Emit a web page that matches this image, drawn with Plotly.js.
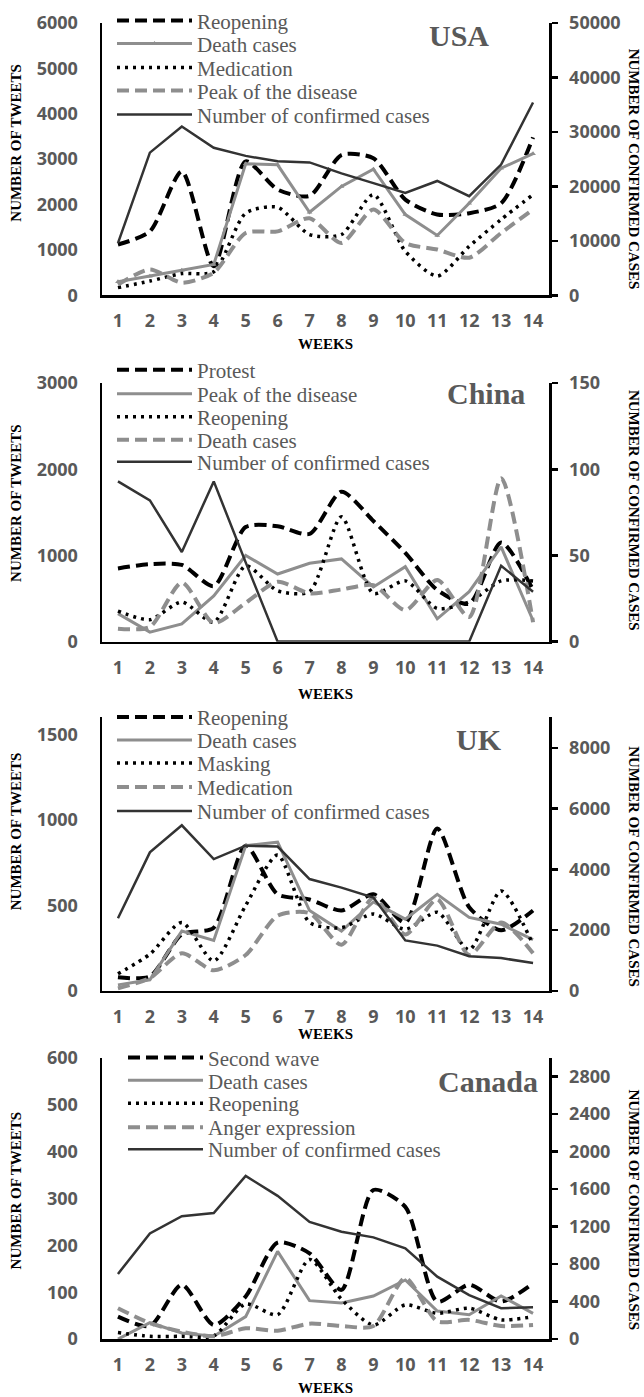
<!DOCTYPE html>
<html>
<head>
<meta charset="utf-8">
<script src="https://cdn.plot.ly/plotly-3.0.1.min.js"></script>
<style>
html,body{margin:0;padding:0;background:#ffffff;}
#chart{width:644px;height:1397px;}
</style>
</head>
<body>
<div id="chart"></div>
<script>
// ---------- DATA ----------
const weeks = [1,2,3,4,5,6,7,8,9,10,11,12,13,14];

// USA
const usaReopening  = [1120,1410,2730,640,2950,2330,2190,3090,3020,2110,1780,1810,2030,3480];
const usaDeath      = [300,420,555,680,2900,2875,1830,2400,2780,1780,1320,2030,2800,3120];
const usaMedication = [170,315,480,520,1810,1940,1340,1340,2220,970,425,1080,1670,2220];
const usaPeak       = [240,570,280,500,1375,1410,1700,1155,1890,1155,1010,830,1375,1890];
const usaConfirmed  = [9600,26200,31000,27100,25600,24600,24400,22400,20600,18800,21000,18200,24000,35400];

// China
const chinaProtest   = [850,900,890,645,1330,1340,1250,1740,1400,1030,600,440,1150,600];
const chinaPeak      = [325,110,205,530,1000,785,910,960,635,870,265,580,1100,245];
const chinaReopening = [355,255,460,225,880,590,580,1450,560,705,385,460,705,705];
const chinaDeath     = [150,170,685,215,450,695,560,605,655,365,715,285,1895,225];
const chinaConfirmed = [93,82,52,93,46,0,0,0,0,0,0,0,44,29];

// UK
const ukReopening  = [80,85,330,370,850,565,535,470,565,400,950,490,355,470];
const ukDeath      = [35,65,350,295,850,870,470,350,520,420,565,430,390,300];
const ukMasking    = [100,215,400,175,500,795,400,370,450,360,460,240,585,270];
const ukMedication = [15,75,220,120,210,440,455,270,545,330,535,210,400,220];
const ukConfirmed  = [2390,4560,5450,4340,4780,4750,3680,3400,3070,1660,1490,1140,1080,920];

// Canada
const canSecondWave = [48,28,116,30,91,206,183,105,318,282,80,116,80,119];
const canDeath      = [0,35,13,6,48,187,82,77,92,126,60,52,92,55];
const canReopening  = [14,6,6,7,75,52,170,85,30,73,55,66,41,48];
const canAnger      = [66,34,16,6,23,18,33,28,28,130,38,41,28,30];
const canConfirmed  = [695,1127,1310,1345,1740,1527,1250,1145,1085,967,666,470,330,340];

// Tick labels
const usaLeftTicks   = [0,1000,2000,3000,4000,5000,6000];
const usaRightTicks  = [0,10000,20000,30000,40000,50000];
const chinaLeftTicks = [0,1000,2000,3000];
const chinaRightTicks= [0,50,100,150];
const ukLeftTicks    = [0,500,1000,1500];
const ukRightTicks   = [0,2000,4000,6000,8000];
const canLeftTicks   = [0,100,200,300,400,500,600];
const canRightTicks  = [0,400,800,1200,1600,2000,2400,2800];

// ---------- STYLES ----------
const W = 644, H = 1397;
const px = v => v / W;
const py = v => 1 - v / H;

const STY = {
  blackDash: {line:{color:'#000000', width:4, dash:'12px,6px', shape:'spline', smoothing:0.7}},
  grayDash:  {line:{color:'#8e8e8e', width:4, dash:'12px,6px', shape:'spline', smoothing:0.7}},
  blackDot:  {line:{color:'#000000', width:3.5, dash:'3px,5px', shape:'spline', smoothing:0.7}},
  graySolid: {line:{color:'#8e8e8e', width:3}},
  grayTri:   {line:{color:'#8e8e8e', width:3}, marker:{symbol:'triangle-up', size:5, color:'#8e8e8e'}, mode:'lines+markers'},
  confirmed: {line:{color:'#333333', width:2.5}}
};

const panels = [
  {label:'USA', top:20, bottom:293, lRange:[0,6000], lTicks:usaLeftTicks, rRange:[0,50000], rTicks:usaRightTicks,
   labelPos:[459,33], legX:112, legY:[18,41,65,88,112], leftTitleY:140, rightTitleY:166, weeksY:342,
   series:[['Reopening',usaReopening,'blackDash'],['Death cases',usaDeath,'grayTri'],['Medication',usaMedication,'blackDot'],
           ['Peak of the disease',usaPeak,'grayDash'],['Number of confirmed cases',usaConfirmed,'confirmed']]},
  {label:'China', top:381, bottom:640, lRange:[0,3000], lTicks:chinaLeftTicks, rRange:[0,150], rTicks:chinaRightTicks,
   labelPos:[486,391], legX:112, legY:[368,392,415,438,460], leftTitleY:501, rightTitleY:508, weeksY:692,
   series:[['Protest',chinaProtest,'blackDash'],['Peak of the disease',chinaPeak,'graySolid'],['Reopening',chinaReopening,'blackDot'],
           ['Death cases',chinaDeath,'grayDash'],['Number of confirmed cases',chinaConfirmed,'confirmed']]},
  {label:'UK', top:716, bottom:990, lRange:[0,1600], lTicks:ukLeftTicks, rRange:[0,9000], rTicks:ukRightTicks,
   labelPos:[479,738], legX:112, legY:[716,739,762,786,810], leftTitleY:830, rightTitleY:865, weeksY:1033,
   series:[['Reopening',ukReopening,'blackDash'],['Death cases',ukDeath,'graySolid'],['Masking',ukMasking,'blackDot'],
           ['Medication',ukMedication,'grayDash'],['Number of confirmed cases',ukConfirmed,'confirmed']]},
  {label:'Canada', top:1057, bottom:1339, lRange:[0,600], lTicks:canLeftTicks, rRange:[0,3000], rTicks:canRightTicks,
   labelPos:[488,1081], legX:123, legY:[1057,1080,1103,1127,1149], leftTitleY:1190, rightTitleY:1209, weeksY:1388,
   series:[['Second wave',canSecondWave,'blackDash'],['Death cases',canDeath,'graySolid'],['Reopening',canReopening,'blackDot'],
           ['Anger expression',canAnger,'grayDash'],['Number of confirmed cases',canConfirmed,'confirmed']]}
];

// ---------- BUILD ----------
const tickFont = {family:'Open Sans, Liberation Sans, sans-serif', size:18, color:'#595959', weight:'bold'};
const titleFont = {family:'Liberation Serif, serif', size:15, color:'#000000', weight:'bold'};
const legendFont = {family:'Liberation Serif, serif', size:21, color:'#595959'};

const data = [];
const layout = {
  width: W, height: H,
  margin:{l:0,r:0,t:0,b:0},
  paper_bgcolor:'#ffffff', plot_bgcolor:'rgba(0,0,0,0)',
  showlegend:true,
  annotations:[]
};

const X0 = 102, X1 = 549;
let legendCount = 0;

panels.forEach((p, i) => {
  const n = i + 1;
  const xName = n === 1 ? 'x' : 'x' + n;
  const yL = 2*n - 1, yR = 2*n;
  const yLName = yL === 1 ? 'y' : 'y' + yL;
  const yRName = 'y' + yR;

  layout['xaxis' + (n === 1 ? '' : n)] = {
    domain:[px(X0), px(X1)], anchor:yLName, range:[0.5,14.5], tickvals:weeks,
    showline:true, linecolor:'#000', linewidth:2.5, ticks:'', showgrid:false, zeroline:false,
    tickfont:tickFont, ticklabelstandoff:8, fixedrange:true
  };
  layout['yaxis' + (yL === 1 ? '' : yL)] = {
    domain:[py(p.bottom), py(p.top)], anchor:xName, range:p.lRange, tickvals:p.lTicks, tickformat:'d',
    showline:true, linecolor:'#000', linewidth:2.5, ticks:'', showgrid:false, zeroline:false,
    tickfont:tickFont, ticklabelstandoff:18, fixedrange:true
  };
  layout['yaxis' + yR] = {
    overlaying:yLName, side:'right', anchor:xName, range:p.rRange, tickvals:p.rTicks, tickformat:'d',
    showline:true, linecolor:'#000', linewidth:2.5, ticks:'outside', ticklen:6, tickwidth:2.5, tickcolor:'#000',
    showgrid:false, zeroline:false, tickfont:tickFont, ticklabelstandoff:8, fixedrange:true
  };

  p.series.forEach((s, k) => {
    legendCount++;
    const legId = legendCount === 1 ? 'legend' : 'legend' + legendCount;
    const st = STY[s[2]];
    const isConf = k === 4;
    data.push(Object.assign({
      type:'scatter', mode: st.mode || 'lines', name:s[0], x:weeks, y:s[1],
      xaxis:xName, yaxis: isConf ? yRName : yLName, legend:legId, cliponaxis:false, hoverinfo:'skip'
    }, {line:st.line}, st.marker ? {marker:st.marker} : {}));
    layout[legId] = {
      x:px(p.legX), y:py(p.legY[k]), xanchor:'left', yanchor:'middle',
      bgcolor:'rgba(0,0,0,0)', borderwidth:0, font:legendFont, itemwidth:75, tracegroupgap:0
    };
  });

  layout.annotations.push(
    {xref:'paper', yref:'paper', x:px(p.labelPos[0]), y:py(p.labelPos[1]), text:p.label, showarrow:false,
     xanchor:'center', yanchor:'middle', font:{family:'Liberation Serif, serif', size:30, color:'#595959', weight:'bold'}},
    {xref:'paper', yref:'paper', x:px(16), y:py(p.leftTitleY), text:'NUMBER OF TWEETS', showarrow:false,
     textangle:-90, xanchor:'center', yanchor:'middle', font:titleFont},
    {xref:'paper', yref:'paper', x:px(634), y:py(p.rightTitleY), text:'NUMBER OF CONFIRMED CASES', showarrow:false,
     textangle:90, xanchor:'center', yanchor:'middle', font:titleFont},
    {xref:'paper', yref:'paper', x:px((X0+X1)/2), y:py(p.weeksY), text:'WEEKS', showarrow:false,
     xanchor:'center', yanchor:'middle', font:titleFont}
  );
});

Plotly.newPlot('chart', data, layout, {staticPlot:true, displayModeBar:false});
</script>
</body>
</html>
